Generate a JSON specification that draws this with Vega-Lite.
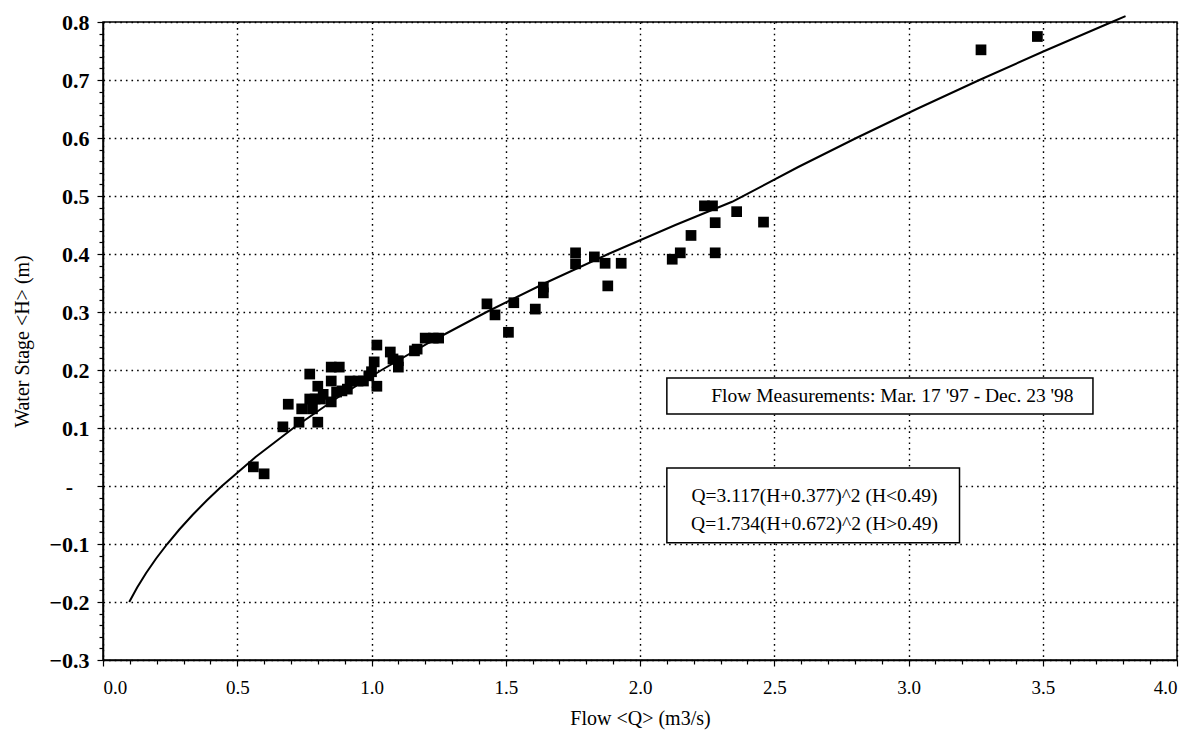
{
  "$schema": "https://vega.github.io/schema/vega-lite/v6.json",
  "width": 1074,
  "height": 638,
  "autosize": "none",
  "padding": {"left": 103, "top": 22, "right": 22, "bottom": 81},
  "background": "white",
  "config": {
    "view": {"stroke": "black", "strokeWidth": 1.5},
    "font": "Liberation Serif",
    "axis": {
      "domainColor": "black",
      "domainWidth": 1.5,
      "tickColor": "black",
      "tickWidth": 1.2,
      "labelColor": "black",
      "titleColor": "black",
      "labelFont": "Liberation Serif",
      "titleFont": "Liberation Serif",
      "titleFontWeight": "normal",
      "gridColor": "black",
      "gridOpacity": 1,
      "gridWidth": 1.4,
      "gridDash": [1.6, 4]
    }
  },
  "datasets": {
    "obs": [
      {"Q": 0.56, "H": 0.033}, {"Q": 0.60, "H": 0.021}, {"Q": 0.67, "H": 0.102}, {"Q": 0.69, "H": 0.141},
      {"Q": 0.73, "H": 0.110}, {"Q": 0.74, "H": 0.133}, {"Q": 0.78, "H": 0.133}, {"Q": 0.80, "H": 0.110},
      {"Q": 0.77, "H": 0.150}, {"Q": 0.77, "H": 0.193}, {"Q": 0.79, "H": 0.150}, {"Q": 0.80, "H": 0.172},
      {"Q": 0.81, "H": 0.150}, {"Q": 0.82, "H": 0.158}, {"Q": 0.85, "H": 0.145}, {"Q": 0.85, "H": 0.181},
      {"Q": 0.85, "H": 0.205}, {"Q": 0.87, "H": 0.162}, {"Q": 0.88, "H": 0.205}, {"Q": 0.89, "H": 0.164},
      {"Q": 0.91, "H": 0.167}, {"Q": 0.92, "H": 0.181}, {"Q": 0.95, "H": 0.181}, {"Q": 0.97, "H": 0.181},
      {"Q": 0.99, "H": 0.190}, {"Q": 1.00, "H": 0.197}, {"Q": 1.01, "H": 0.214}, {"Q": 1.02, "H": 0.172},
      {"Q": 1.02, "H": 0.243}, {"Q": 1.07, "H": 0.231}, {"Q": 1.08, "H": 0.219}, {"Q": 1.10, "H": 0.216},
      {"Q": 1.10, "H": 0.205}, {"Q": 1.16, "H": 0.233}, {"Q": 1.17, "H": 0.236}, {"Q": 1.20, "H": 0.255},
      {"Q": 1.23, "H": 0.255}, {"Q": 1.25, "H": 0.255}, {"Q": 1.43, "H": 0.314}, {"Q": 1.46, "H": 0.295},
      {"Q": 1.51, "H": 0.265}, {"Q": 1.53, "H": 0.316}, {"Q": 1.61, "H": 0.305}, {"Q": 1.64, "H": 0.343},
      {"Q": 1.64, "H": 0.333}, {"Q": 1.76, "H": 0.402}, {"Q": 1.76, "H": 0.383}, {"Q": 1.83, "H": 0.395},
      {"Q": 1.87, "H": 0.384}, {"Q": 1.88, "H": 0.345}, {"Q": 1.93, "H": 0.384}, {"Q": 2.12, "H": 0.391},
      {"Q": 2.15, "H": 0.402}, {"Q": 2.19, "H": 0.432}, {"Q": 2.24, "H": 0.483}, {"Q": 2.27, "H": 0.483},
      {"Q": 2.28, "H": 0.402}, {"Q": 2.28, "H": 0.454}, {"Q": 2.36, "H": 0.473}, {"Q": 2.46, "H": 0.455},
      {"Q": 3.27, "H": 0.752}, {"Q": 3.48, "H": 0.775}
    ],
    "curve": [
      {"Q": 0.0977, "H": -0.2}, {"Q": 0.1272, "H": -0.175}, {"Q": 0.1606, "H": -0.15}, {"Q": 0.1979, "H": -0.125},
      {"Q": 0.2392, "H": -0.1}, {"Q": 0.2843, "H": -0.075}, {"Q": 0.3333, "H": -0.05}, {"Q": 0.3862, "H": -0.025},
      {"Q": 0.4430, "H": 0.0}, {"Q": 0.5683, "H": 0.05}, {"Q": 0.7092, "H": 0.1}, {"Q": 0.8657, "H": 0.15},
      {"Q": 1.0377, "H": 0.2}, {"Q": 1.2254, "H": 0.25}, {"Q": 1.4286, "H": 0.3}, {"Q": 1.6474, "H": 0.35},
      {"Q": 1.8818, "H": 0.4}, {"Q": 2.1318, "H": 0.45}, {"Q": 2.3430, "H": 0.49}, {"Q": 2.5893, "H": 0.55},
      {"Q": 2.8056, "H": 0.6}, {"Q": 3.0305, "H": 0.65}, {"Q": 3.2641, "H": 0.7}, {"Q": 3.5063, "H": 0.75},
      {"Q": 3.7572, "H": 0.8}, {"Q": 3.8084, "H": 0.81}
    ],
    "boxes": [
      {"x1": 2.10, "x2": 3.687, "y1": 0.186, "y2": 0.124},
      {"x1": 2.10, "x2": 3.19, "y1": 0.031, "y2": -0.098}
    ],
    "notes": [
      {"Q": 2.94, "H": 0.155, "t": "Flow Measurements: Mar. 17 '97 - Dec. 23 '98"},
      {"Q": 2.65, "H": -0.017, "t": "Q=3.117(H+0.377)^2 (H<0.49)"},
      {"Q": 2.65, "H": -0.066, "t": "Q=1.734(H+0.672)^2 (H>0.49)"}
    ]
  },
  "layer": [
    {
      "data": {"name": "curve"},
      "mark": {"type": "line", "color": "black", "strokeWidth": 2, "clip": false},
      "encoding": {
        "x": {
          "field": "Q", "type": "quantitative",
          "scale": {"domain": [0, 4], "nice": false, "zero": false},
          "axis": {
            "orient": "bottom", "values": [0.1,0.2,0.3,0.4,0.6,0.7,0.8,0.9,1.1,1.2,1.3,1.4,1.6,1.7,1.8,1.9,2.1,2.2,2.3,2.4,2.6,2.7,2.8,2.9,3.1,3.2,3.3,3.4,3.6,3.7,3.8,3.9],
            "labels": false, "grid": false, "domain": false, "tickSize": 4, "title": null
          }
        },
        "y": {
          "field": "H", "type": "quantitative",
          "scale": {"domain": [-0.3, 0.8], "nice": false, "zero": false},
          "axis": {
            "orient": "left", "values": [-0.28,-0.26,-0.24,-0.22,-0.18,-0.16,-0.14,-0.12,-0.08,-0.06,-0.04,-0.02,0.02,0.04,0.06,0.08,0.12,0.14,0.16,0.18,0.22,0.24,0.26,0.28,0.32,0.34,0.36,0.38,0.42,0.44,0.46,0.48,0.52,0.54,0.56,0.58,0.62,0.64,0.66,0.68,0.72,0.74,0.76,0.78],
            "labels": false, "grid": false, "domain": false, "tickSize": 4, "title": null
          }
        },
        "order": {"field": "H", "type": "quantitative"}
      }
    },
    {
      "data": {"name": "obs"},
      "mark": {"type": "square", "color": "black", "opacity": 1, "size": 115},
      "encoding": {
        "x": {
          "field": "Q", "type": "quantitative",
          "scale": {"domain": [0, 4], "nice": false, "zero": false},
          "axis": {
            "orient": "bottom", "values": [0, 0.5, 1, 1.5, 2, 2.5, 3, 3.5, 4],
            "format": ".1f", "grid": true, "tickSize": 6,
            "labelFont": "Liberation Serif", "labelFontSize": 19, "labelPadding": 12,
            "title": "Flow <Q> (m3/s)", "titleFontSize": 20, "titlePadding": 11
          }
        },
        "y": {
          "field": "H", "type": "quantitative",
          "scale": {"domain": [-0.3, 0.8], "nice": false, "zero": false},
          "axis": {
            "orient": "left", "values": [-0.3,-0.2,-0.1,0,0.1,0.2,0.3,0.4,0.5,0.6,0.7,0.8],
            "labelExpr": "abs(datum.value) < 1e-9 ? '-\u00a0\u00a0\u00a0\u200b' : format(datum.value, '.1f')",
            "grid": true, "tickSize": 6,
            "labelFont": "Liberation Serif", "labelFontSize": 22, "labelFontWeight": "bold", "labelPadding": 8,
            "title": "Water Stage <H> (m)", "titleFontSize": 20, "titlePadding": 16
          }
        }
      }
    },
    {
      "data": {"name": "boxes"},
      "mark": {"type": "rect", "fill": "white", "stroke": "black", "strokeWidth": 1.5},
      "encoding": {
        "x": {"field": "x1", "type": "quantitative", "axis": null},
        "x2": {"field": "x2"},
        "y": {"field": "y1", "type": "quantitative", "axis": null},
        "y2": {"field": "y2"}
      }
    },
    {
      "data": {"name": "notes"},
      "mark": {"type": "text", "font": "Liberation Serif", "fontSize": 19.5, "color": "black", "align": "center", "baseline": "middle"},
      "encoding": {
        "x": {"field": "Q", "type": "quantitative", "axis": null},
        "y": {"field": "H", "type": "quantitative", "axis": null},
        "text": {"field": "t"}
      }
    }
  ],
  "resolve": {"axis": {"x": "independent", "y": "independent"}}
}
